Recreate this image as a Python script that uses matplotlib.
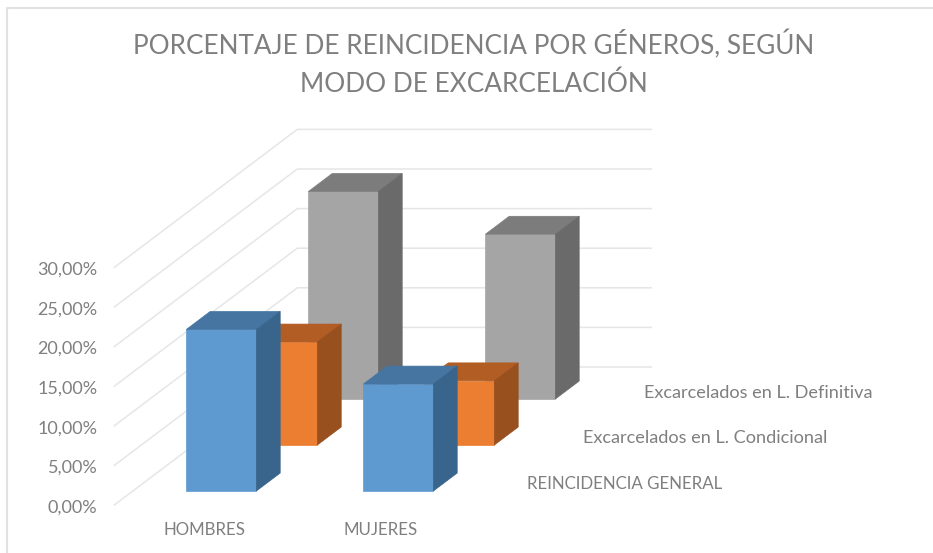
import matplotlib
matplotlib.use("Agg")
import matplotlib.pyplot as plt
from matplotlib.patches import Polygon

plt.rcParams["font.family"] = ["Lato", "DejaVu Sans"]

# Datos
categorias = ["HOMBRES", "MUJERES"]
series = ["REINCIDENCIA GENERAL", "Excarcelados en L. Condicional", "Excarcelados en L. Definitiva"]
general = [20.4, 13.5]
condicional = [13.0, 8.1]
definitiva = [26.2, 20.8]
ticks = [0, 5, 10, 15, 20, 25, 30]
tick_labels = ["0,00%", "5,00%", "10,00%", "15,00%", "20,00%", "25,00%", "30,00%"]

GRIS = "#7f7f7f"
LINEA = "#e6e6e6"
# frente, techo, lateral
colores = [("#5e9ad0", "#4675a1", "#39648b"),
           ("#ec7e32", "#b25d24", "#98501f"),
           ("#a5a5a5", "#7c7c7c", "#6a6a6a")]

# proyeccion oblicua del 3D de Excel, en pixeles de la imagen
X0, Y0 = 114.3, 505
CAT_W, DX, DY, PX_PCT = 177, 61, 46, 7.92
ANCHO = 70 / 177
FONDO = 0.39


def proy(x, d, z):
    return (X0 + CAT_W * x + DX * d, Y0 - DY * d - PX_PCT * z)


fig = plt.figure(figsize=(9.33, 5.53), dpi=100)
ax = fig.add_axes([0, 0, 1, 1])
ax.set_xlim(0, 933)
ax.set_ylim(553, 0)
ax.axis("off")

# marco
ax.plot([7, 7, 933], [553, 8, 8], color="#e2e2e2", lw=1.5)

# rejilla: pared lateral y pared del fondo
for t in ticks:
    a = proy(0, 0, t)
    b = proy(0, 3, t)
    c = proy(2, 3, t)
    ax.plot([a[0], b[0], c[0]], [a[1], b[1], c[1]], color=LINEA, lw=1.1, zorder=1)

valores = [general, condicional, definitiva]
z = 2
for s in [2, 1, 0]:
    for i in range(len(categorias)):
        v = valores[s][i]
        x1 = i + (1 - ANCHO) / 2
        x2 = x1 + ANCHO
        d1 = s + (1 - FONDO) / 2
        d2 = d1 + FONDO
        frente, techo, lado = colores[s]
        ax.add_patch(Polygon([proy(x1, d1, 0), proy(x2, d1, 0), proy(x2, d1, v), proy(x1, d1, v)],
                             fc=frente, ec=frente, lw=0.5, zorder=z))
        ax.add_patch(Polygon([proy(x1, d1, v), proy(x2, d1, v), proy(x2, d2, v), proy(x1, d2, v)],
                             fc=techo, ec=techo, lw=0.5, zorder=z))
        ax.add_patch(Polygon([proy(x2, d1, 0), proy(x2, d2, 0), proy(x2, d2, v), proy(x2, d1, v)],
                             fc=lado, ec=lado, lw=0.5, zorder=z))
        z += 1

# textos
ax.text(474, 45, "PORCENTAJE DE REINCIDENCIA POR GÉNEROS, SEGÚN", color=GRIS, fontsize=18.8, ha="center", va="center")
ax.text(474, 84, "MODO DE EXCARCELACIÓN", color=GRIS, fontsize=18.8, ha="center", va="center")

for t, lab in zip(ticks, tick_labels):
    ax.text(97.5, proy(0, 0, t)[1] + 2.5, lab, color=GRIS, fontsize=13, ha="right", va="center")

ax.text(204.5, 530, categorias[0], color=GRIS, fontsize=12.2, ha="center", va="center")
ax.text(381, 530, categorias[1], color=GRIS, fontsize=12.2, ha="center", va="center")

ax.text(527, 484, series[0], color=GRIS, fontsize=12.2, ha="left", va="center")
ax.text(583, 438, series[1], color=GRIS, fontsize=13.1, ha="left", va="center")
ax.text(644, 393, series[2], color=GRIS, fontsize=13.1, ha="left", va="center")

fig.savefig("out.png", dpi=100)
